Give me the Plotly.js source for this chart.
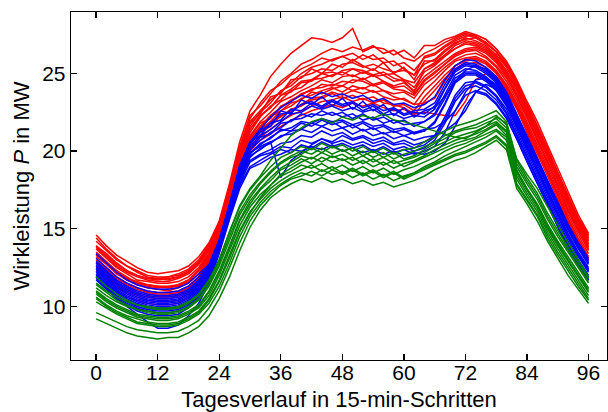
<!DOCTYPE html>
<html>
<head>
<meta charset="utf-8">
<script src="https://cdn.plot.ly/plotly-3.0.1.min.js"></script>
<style>html,body{margin:0;padding:0;background:#fff;}#chart{width:608px;height:412px;}</style>
</head>
<body>
<div id="chart"></div>
<script>
// Time steps (15-min intervals), sampled every second step
const steps = [0,2,4,6,8,10,12,14,16,18,20,22,24,26,28,30,32,34,36,38,40,42,44,46,48,50,52,54,56,58,60,62,64,66,68,70,72,74,76,78,80,82,84,86,88,90,92,94,96];
const xTicks = [0,12,24,36,48,60,72,84,96];
const yTicks = [10,15,20,25];

// Red group
const red01 = [14.6,13.9,13.3,12.9,12.5,12.2,12.1,12.2,12.3,12.6,13.2,14.1,15.5,17.9,20.6,22.6,23.6,24.8,25.6,26.3,26.8,27.3,27.2,27.0,27.3,27.9,26.4,26.7,26.6,26.2,26.5,26.0,26.8,26.8,27.2,27.4,27.7,27.5,27.2,26.6,25.8,24.6,23.2,21.9,20.4,18.9,17.3,15.9,14.7];
const red02 = [14.4,13.7,13.1,12.6,12.3,12.0,11.9,11.9,12.1,12.4,13.0,14.0,15.4,17.7,20.3,22.3,22.9,23.7,24.5,25.0,25.6,25.9,26.3,26.6,26.4,26.7,26.5,26.8,26.3,26.5,26.0,25.8,26.3,26.6,27.0,27.3,27.6,27.4,27.0,26.4,25.5,24.3,23.0,21.6,20.1,18.6,17.0,15.6,14.5];
const red03 = [14.2,13.6,13.0,12.6,12.2,11.9,11.8,11.9,12.0,12.3,12.9,13.9,15.4,17.6,20.0,21.9,22.6,23.3,23.8,24.4,25.0,25.4,25.6,25.9,26.1,25.8,26.2,25.9,26.0,25.5,25.7,25.2,26.0,26.2,26.7,27.1,27.4,27.5,27.2,26.6,25.7,24.5,23.1,21.7,20.2,18.6,17.1,15.7,14.6];
const red04 = [13.9,13.4,12.8,12.3,12.0,11.8,11.7,11.8,11.9,12.2,12.8,13.8,15.3,17.4,19.8,21.6,22.5,23.1,23.9,24.2,24.8,25.0,25.3,25.2,25.6,25.7,25.4,25.6,25.3,25.1,25.2,24.9,25.6,25.9,26.5,27.0,27.2,27.3,26.9,26.4,25.5,24.3,22.9,21.5,20.0,18.5,16.9,15.5,14.3];
const red05 = [13.8,13.2,12.6,12.2,11.9,11.7,11.6,11.6,11.8,12.1,12.7,13.7,15.2,17.3,19.6,21.4,22.3,22.8,23.6,24.0,24.5,24.6,25.0,25.1,24.9,25.3,25.2,24.9,25.1,24.7,24.5,23.8,25.3,25.7,26.2,26.8,27.1,27.0,26.7,26.1,25.2,24.1,22.7,21.2,19.8,18.3,16.7,15.3,14.1];
const red06 = [13.5,12.9,12.3,11.9,11.5,11.4,11.3,11.2,11.4,11.7,12.4,13.4,15.0,17.3,19.5,21.2,22.2,22.9,23.3,23.9,24.1,24.6,24.7,24.9,25.1,24.8,25.1,24.8,24.9,24.5,24.6,24.1,25.1,25.5,26.1,26.6,26.9,26.8,26.5,25.9,25.0,23.9,22.5,21.0,19.6,18.1,16.5,15.1,13.9];
const red07 = [13.2,12.7,12.1,11.7,11.4,11.2,11.1,11.0,11.2,11.5,12.1,13.3,14.9,17.2,19.4,21.0,21.9,22.5,23.2,23.5,23.9,24.2,24.6,24.4,24.8,24.9,24.6,24.9,24.5,24.2,24.4,23.9,24.8,25.3,25.8,26.3,26.6,26.7,26.4,25.8,24.9,23.7,22.3,20.9,19.4,17.9,16.3,15.0,13.8];
const red08 = [13.0,12.5,11.9,11.5,11.2,11.0,10.9,10.9,11.0,11.3,11.9,13.2,14.9,17.1,19.3,20.8,21.6,22.3,22.8,23.3,23.6,24.0,24.1,24.3,24.2,24.6,24.5,24.2,24.4,24.0,23.9,23.6,24.5,25.0,25.6,26.1,26.4,26.5,26.1,25.5,24.7,23.5,22.1,20.7,19.2,17.7,16.1,14.8,13.6];
const red09 = [12.8,12.3,11.7,11.3,11.0,10.8,10.7,10.7,10.8,11.1,11.8,13.1,14.8,17.0,19.1,20.6,21.4,21.9,22.6,22.9,23.4,23.6,23.9,24.1,23.8,24.2,24.0,24.3,23.9,23.7,23.8,23.4,24.3,24.8,25.4,25.9,26.2,26.3,26.0,25.4,24.5,23.3,21.9,20.5,19.0,17.5,15.9,14.6,13.4];
const red10 = [12.6,12.0,11.5,11.1,10.8,10.6,10.5,10.5,10.6,10.9,11.6,13.0,14.7,16.9,19.0,20.4,21.2,21.6,22.3,22.6,23.0,23.4,23.5,23.8,23.6,23.9,23.7,23.9,23.5,23.3,23.4,23.0,23.9,24.5,25.2,25.8,26.0,26.1,25.8,25.2,24.3,23.1,21.7,20.3,18.8,17.3,15.7,14.4,13.2];
const red11 = [12.3,11.8,11.2,10.9,10.6,10.4,10.3,10.3,10.4,10.8,11.4,12.8,14.6,16.8,18.8,20.2,20.9,21.4,21.9,22.3,22.6,22.9,23.2,23.3,23.5,23.2,23.4,23.1,23.3,22.9,23.0,22.6,23.5,24.2,24.9,25.5,25.8,25.9,25.6,25.0,24.1,22.9,21.5,20.1,18.6,17.1,15.5,14.2,13.0];
const red12 = [12.0,11.5,11.0,10.6,10.4,10.2,10.1,10.1,10.2,10.6,11.2,12.6,14.5,16.7,18.6,20.0,20.7,21.1,21.6,22.0,22.3,22.6,22.8,23.0,22.8,23.1,22.9,23.1,22.8,22.6,22.7,22.3,23.2,23.9,24.7,25.3,25.6,25.7,25.4,24.8,23.9,22.7,21.3,19.9,18.4,16.9,15.3,14.0,12.8];
const red13 = [13.3,12.8,12.2,11.8,11.5,11.3,11.2,11.2,11.3,11.6,12.3,13.4,15.0,16.9,18.9,20.5,21.3,21.9,22.2,22.7,22.9,23.3,23.4,23.7,23.4,23.6,23.3,23.5,23.1,23.0,22.8,22.4,22.5,22.4,22.3,22.3,23.2,24.6,25.0,24.8,24.0,22.8,21.2,19.6,18.0,16.6,15.3,14.1,13.0];
const red14 = [12.9,12.4,11.8,11.4,11.1,10.9,10.8,10.8,10.9,11.2,11.9,13.1,14.8,17.0,19.1,20.7,21.5,22.2,22.6,23.1,23.3,23.8,23.7,24.0,24.2,23.9,24.1,23.8,23.9,23.5,23.3,23.0,23.1,23.4,24.5,25.5,25.9,26.0,25.7,25.1,24.2,23.0,21.6,20.1,18.7,17.2,15.6,14.3,13.1];
const red15 = [13.7,13.1,12.5,12.1,11.7,11.6,11.5,11.5,11.6,11.9,12.5,13.6,15.1,17.5,19.9,21.8,22.4,23.5,23.7,24.6,24.7,25.3,25.0,25.6,25.4,25.9,25.5,25.2,25.7,25.0,25.4,24.6,25.8,25.8,26.4,26.9,27.3,27.1,26.8,26.2,25.4,24.2,22.8,21.4,19.9,18.4,16.8,15.4,14.2];
const red16 = [13.4,12.8,12.3,11.8,11.6,11.4,11.3,11.3,11.4,11.7,12.3,13.3,15.0,17.4,19.6,21.4,22.3,22.8,23.6,23.8,24.4,24.5,25.0,24.8,25.2,25.3,25.0,25.3,24.9,25.0,24.6,24.4,25.3,25.6,26.2,26.6,27.0,26.9,26.6,26.0,25.1,24.0,22.6,21.1,19.7,18.2,16.6,15.2,14.0];
const red17 = [12.5,12.0,11.4,11.0,10.8,10.6,10.6,10.6,10.7,11.0,11.7,12.9,14.7,17.1,19.2,20.9,21.8,22.1,22.9,23.2,23.7,23.9,24.3,24.2,24.5,24.4,24.7,24.3,24.5,24.1,24.2,23.7,24.6,25.1,25.6,26.2,26.5,26.6,26.3,25.7,24.8,23.6,22.2,20.8,19.3,17.8,16.2,14.9,13.7];
const red18 = [13.9,13.3,12.7,12.3,12.0,11.8,11.8,11.7,11.9,12.2,12.8,13.6,15.2,17.7,20.2,22.1,23.1,23.9,24.3,24.9,25.3,25.6,26.0,25.8,26.1,26.3,25.9,26.2,25.7,25.8,25.3,24.9,26.1,26.3,26.8,27.2,27.5,27.3,27.0,26.4,25.6,24.4,23.0,21.6,20.1,18.6,17.0,15.6,14.4];

// Blue group
const blue01 = [13.4,12.8,12.2,11.7,11.4,11.2,11.1,11.1,11.2,11.5,12.1,12.7,14.3,16.6,19.1,20.6,21.4,22.2,22.8,23.2,23.6,23.4,23.8,23.5,23.7,23.4,23.6,23.2,23.4,23.0,23.1,22.8,23.0,23.5,24.6,25.5,25.9,25.8,25.4,24.8,23.8,22.4,21.0,19.6,18.2,16.8,15.3,14.1,13.1];
const blue02 = [13.1,12.5,11.9,11.5,11.2,11.0,10.9,10.9,11.0,11.3,11.9,12.6,14.2,16.5,19.0,20.5,21.2,21.8,22.4,22.5,23.0,23.2,22.9,23.3,23.0,23.2,22.8,23.0,22.6,22.8,22.4,22.6,22.7,23.1,24.3,25.3,25.7,25.6,25.2,24.6,23.6,22.2,20.8,19.4,17.9,16.5,15.1,13.9,12.9];
const blue03 = [12.8,12.2,11.6,11.2,10.9,10.7,10.6,10.6,10.7,11.0,11.6,12.4,14.1,16.4,18.8,20.3,21.0,21.4,21.9,22.4,22.5,22.9,22.7,22.9,22.6,22.8,22.5,22.7,22.3,22.4,22.1,22.3,22.2,22.7,24.0,25.1,25.5,25.4,25.0,24.4,23.4,22.0,20.6,19.2,17.7,16.3,14.9,13.7,12.7];
const blue04 = [12.5,11.9,11.3,10.9,10.6,10.4,10.3,10.3,10.4,10.7,11.3,12.2,14.0,16.3,18.6,20.1,20.7,21.2,21.5,22.0,22.1,22.4,22.3,22.5,22.2,22.4,22.0,22.2,21.8,22.0,21.7,21.8,21.9,22.4,23.6,24.9,25.3,25.2,24.8,24.2,23.2,21.8,20.4,19.0,17.5,16.1,14.7,13.5,12.5];
const blue05 = [12.2,11.6,11.0,10.6,10.3,10.1,10.0,10.0,10.1,10.4,11.0,12.0,13.9,16.1,18.4,19.9,20.4,20.9,21.3,21.5,21.9,21.8,22.1,21.9,22.0,21.7,21.9,21.6,21.7,21.4,21.5,21.2,21.4,21.5,21.9,22.6,23.8,24.6,24.7,24.3,23.3,21.9,20.4,18.9,17.4,16.0,14.6,13.4,12.4];
const blue06 = [12.0,11.4,10.8,10.4,10.1,9.9,9.8,9.8,9.9,10.2,10.8,11.9,13.8,16.0,18.3,19.7,20.1,20.6,20.9,21.3,21.4,21.8,21.6,21.9,21.5,21.7,21.3,21.5,21.1,21.3,21.0,21.2,21.3,21.8,23.0,24.4,24.9,24.9,24.5,23.9,22.9,21.5,20.1,18.7,17.2,15.8,14.4,13.2,12.2];
const blue07 = [11.8,11.2,10.6,10.2,9.9,9.7,9.6,9.6,9.7,10.0,10.6,11.8,13.7,15.9,18.1,19.4,19.8,20.1,20.5,20.6,21.0,20.9,21.3,21.0,21.2,20.8,21.0,20.7,20.9,20.5,20.7,20.4,20.6,21.0,22.2,23.6,24.4,24.5,24.2,23.6,22.7,21.3,19.9,18.5,17.0,15.6,14.2,13.0,12.0];
const blue08 = [11.9,11.2,10.5,10.0,9.5,9.0,8.6,8.6,8.8,9.4,10.2,11.5,13.4,15.6,17.6,18.9,19.2,19.6,19.8,20.1,20.0,20.3,20.1,20.4,20.0,20.2,19.9,20.1,19.8,20.0,19.7,19.9,19.8,20.0,20.5,21.6,22.9,23.8,23.6,23.0,22.1,20.8,19.3,17.9,16.5,15.2,13.8,12.7,11.7];
const blue09 = [12.4,11.8,11.2,10.8,10.5,10.3,10.2,10.2,10.3,10.6,11.2,12.1,13.9,16.1,18.4,19.9,20.3,20.6,18.3,19.4,19.9,20.4,20.8,20.6,21.0,20.7,20.9,20.5,20.7,20.4,20.5,20.2,20.4,20.9,22.0,23.4,24.2,24.4,24.1,23.5,22.5,21.1,19.7,18.3,16.8,15.4,14.0,12.9,11.9];
const blue10 = [12.9,12.3,11.7,11.3,11.0,10.8,10.7,10.7,10.8,11.1,11.7,12.5,14.2,16.5,19.0,20.4,21.4,21.6,22.6,22.4,23.3,23.0,23.5,22.9,23.4,22.7,23.2,22.6,23.0,22.3,22.8,22.2,22.6,22.8,23.5,24.5,25.2,25.5,25.3,24.7,23.7,22.3,20.9,19.5,18.0,16.6,15.2,14.0,13.0];
const blue11 = [12.3,11.7,11.1,10.7,10.4,10.2,10.1,10.1,10.2,10.5,11.1,12.0,13.9,16.0,18.2,19.6,20.2,20.5,21.0,21.1,21.4,21.2,21.6,21.3,21.5,21.1,21.4,21.0,21.2,20.8,21.0,20.7,20.9,21.0,21.3,21.8,22.6,23.8,24.3,24.0,23.1,21.7,20.2,18.8,17.3,15.9,14.5,13.3,12.3];
const blue12 = [12.7,12.1,11.5,11.1,10.8,10.6,10.5,10.5,10.6,10.9,11.5,12.3,14.1,16.3,18.7,20.1,20.9,21.1,21.8,21.9,22.4,22.2,22.6,22.3,22.5,22.1,22.4,22.0,22.2,21.8,22.0,21.6,21.9,22.3,23.4,24.7,25.1,25.1,24.7,24.1,23.1,21.7,20.3,18.9,17.4,16.0,14.6,13.4,12.4];
const blue13 = [12.1,11.5,10.9,10.5,10.2,10.0,9.9,9.9,10.0,10.3,10.9,11.9,13.8,15.8,17.9,19.3,19.7,19.9,20.3,20.2,20.7,20.5,20.8,20.5,20.7,20.4,20.6,20.3,20.5,20.1,20.3,20.0,20.2,20.7,21.8,23.2,24.0,24.2,23.9,23.3,22.4,21.0,19.6,18.2,16.7,15.3,13.9,12.8,11.8];
const blue14 = [12.6,12.0,11.4,11.0,10.7,10.5,10.4,10.4,10.5,10.8,11.4,12.3,14.0,16.4,18.9,20.6,21.0,21.8,22.0,22.7,22.6,23.1,22.8,23.2,22.9,23.1,22.6,22.9,22.4,22.7,22.3,22.5,22.4,22.9,24.1,25.2,25.6,25.5,25.1,24.5,23.5,22.1,20.7,19.3,17.8,16.4,15.0,13.8,12.8];
const blue15 = [11.9,11.3,10.7,10.3,10.0,9.8,9.7,9.7,9.8,10.1,10.7,11.9,13.8,16.0,18.3,19.8,20.5,20.8,21.4,21.3,21.8,21.6,22.0,21.7,21.9,21.5,21.8,21.4,21.6,21.2,21.4,21.1,21.3,21.9,23.1,24.5,25.0,25.0,24.6,24.0,23.0,21.6,20.2,18.8,17.3,15.9,14.5,13.3,12.3];
const blue16 = [11.7,11.1,10.5,10.1,9.7,9.5,9.4,9.4,9.5,9.9,10.5,11.6,13.6,15.7,17.8,19.0,19.4,19.8,20.1,19.9,20.4,20.2,20.6,20.3,20.5,20.2,20.4,20.0,20.3,19.9,20.1,19.8,20.0,20.3,21.2,22.6,23.6,23.9,23.7,23.1,22.2,20.8,19.4,18.0,16.5,15.1,13.7,12.6,11.7];

// Green group
const green01 = [11.5,11.0,10.6,10.3,10.1,10.0,9.9,9.9,10.0,10.3,10.8,11.7,13.0,14.8,16.5,17.6,18.4,19.4,20.2,21.0,21.5,21.9,22.1,21.8,22.2,22.0,22.3,22.1,22.4,22.0,21.9,21.7,21.5,21.3,21.1,20.9,20.8,21.2,21.6,22.2,21.8,19.5,18.5,17.6,16.4,15.3,14.1,13.0,11.9];
const green02 = [11.9,11.3,10.8,10.4,10.1,9.9,9.8,9.8,9.9,10.2,10.7,11.6,13.0,14.8,16.4,17.5,18.3,19.0,19.6,19.9,20.3,20.1,20.5,20.2,20.4,20.0,20.3,19.9,20.2,19.8,20.1,20.2,20.6,20.9,21.3,21.6,21.8,22.0,22.3,22.6,21.9,19.4,18.3,17.3,16.0,14.9,13.8,12.8,11.8];
const green03 = [11.2,10.7,10.3,10.0,9.8,9.6,9.5,9.5,9.6,9.9,10.4,11.3,12.6,14.3,15.9,17.0,17.9,18.6,19.2,19.6,19.8,20.2,19.9,20.3,20.0,20.2,19.7,20.0,19.6,19.9,19.5,19.7,20.1,20.5,20.8,21.2,21.4,21.5,21.8,22.1,21.5,19.0,17.9,16.9,15.6,14.5,13.5,12.5,11.5];
const green04 = [11.0,10.5,10.1,9.8,9.5,9.4,9.3,9.3,9.4,9.7,10.1,11.0,12.3,13.9,15.6,16.8,17.6,18.3,18.9,19.3,19.7,19.5,19.9,19.6,19.8,19.4,19.7,19.3,19.6,19.2,19.4,19.6,19.9,20.3,20.6,20.9,21.1,21.3,21.6,21.9,21.3,18.8,17.6,16.6,15.3,14.2,13.2,12.2,11.2];
const green05 = [10.8,10.3,9.9,9.6,9.3,9.2,9.1,9.1,9.2,9.5,9.9,10.7,12.0,13.6,15.2,16.4,17.2,17.8,18.4,18.7,19.1,18.9,19.2,18.8,19.1,18.7,19.0,18.6,18.9,18.5,18.8,19.0,19.3,19.6,20.0,20.3,20.5,20.8,21.1,21.4,20.9,18.4,17.3,16.3,15.0,13.9,12.9,11.9,10.9];
const green06 = [10.6,10.1,9.7,9.4,9.2,9.0,8.9,8.9,9.0,9.3,9.7,10.5,11.7,13.3,14.9,16.1,16.9,17.6,18.1,18.5,18.8,19.1,18.7,19.0,18.6,18.9,18.5,18.8,18.4,18.7,18.3,18.6,19.0,19.3,19.7,20.0,20.3,20.6,20.9,21.3,20.7,18.2,17.1,16.1,14.8,13.7,12.7,11.7,10.7];
const green07 = [10.3,9.9,9.5,9.2,8.9,8.8,8.7,8.7,8.8,9.1,9.5,10.2,11.3,12.8,14.5,15.8,16.7,17.4,17.9,18.3,18.6,18.4,18.8,18.5,18.7,18.3,18.6,18.2,18.5,18.1,18.4,18.6,18.9,19.2,19.5,19.8,20.0,20.3,20.6,21.0,20.4,17.9,16.9,15.9,14.6,13.5,12.5,11.5,10.5];
const green08 = [9.2,8.9,8.6,8.3,8.1,8.0,7.9,8.0,8.0,8.3,8.7,9.4,10.5,11.9,13.6,15.1,16.2,17.0,17.5,17.9,18.2,18.0,18.3,18.0,18.2,17.9,18.1,17.8,18.0,17.7,17.9,18.1,18.4,18.8,19.1,19.4,19.6,19.9,20.3,20.7,20.1,17.6,16.6,15.5,14.2,13.1,12.0,11.1,10.2];
const green09 = [9.6,9.3,9.0,8.7,8.5,8.4,8.3,8.3,8.4,8.7,9.1,9.9,11.0,12.5,14.1,15.5,16.5,17.2,17.8,18.2,18.4,18.7,18.4,18.8,18.5,18.8,18.4,18.7,18.3,18.6,18.2,18.5,18.8,19.1,19.4,19.7,19.9,20.2,20.5,20.9,20.3,17.8,16.8,15.8,14.4,13.3,12.3,11.3,10.4];
const green10 = [10.5,10.0,9.6,9.3,9.0,8.9,8.8,8.8,8.9,9.2,9.6,10.4,11.6,13.1,14.8,16.0,17.0,17.8,18.5,18.9,19.3,19.6,19.3,19.7,19.4,19.6,19.2,19.5,19.1,19.4,19.0,19.3,19.6,19.9,20.2,20.5,20.7,20.9,21.3,21.7,21.0,18.6,17.5,16.5,15.2,14.1,13.0,12.0,11.0];
const green11 = [10.9,10.4,10.0,9.7,9.4,9.3,9.2,9.2,9.3,9.6,10.0,10.9,12.2,13.8,15.5,16.6,17.5,18.1,18.8,19.1,19.5,19.2,19.6,19.3,19.5,19.1,19.4,19.0,19.3,18.9,19.2,19.4,19.7,20.1,20.4,20.7,20.9,21.1,21.4,21.8,21.2,18.7,17.5,16.5,15.1,14.0,13.0,12.0,11.1];
const green12 = [11.4,10.9,10.4,10.1,9.8,9.7,9.6,9.6,9.7,10.0,10.5,11.4,12.8,14.5,16.1,17.2,18.0,18.7,19.3,19.7,20.0,19.8,20.2,19.8,20.1,19.7,20.0,19.6,19.9,19.5,19.8,20.0,20.3,20.6,21.0,21.3,21.5,21.7,22.0,22.3,21.7,19.2,18.1,17.1,15.8,14.7,13.6,12.6,11.6];

const redSeries = [red01,red02,red03,red04,red05,red06,red07,red08,red09,red10,red11,red12,red13,red14,red15,red16,red17,red18];
const blueSeries = [blue01,blue02,blue03,blue04,blue05,blue06,blue07,blue08,blue09,blue10,blue11,blue12,blue13,blue14,blue15,blue16];
const greenSeries = [green01,green02,green03,green04,green05,green06,green07,green08,green09,green10,green11,green12];

function mk(arr, color){
  return {x: steps, y: arr, type: 'scatter', mode: 'lines',
          line: {color: color, width: 1.5}, hoverinfo: 'skip', showlegend: false};
}
const traces = [];
redSeries.forEach(s => traces.push(mk(s, '#ff0000')));
blueSeries.forEach(s => traces.push(mk(s, '#0000ff')));
greenSeries.forEach(s => traces.push(mk(s, '#008000')));

const fontFam = 'Liberation Sans, Arial, Helvetica, sans-serif';
const layout = {
  width: 608, height: 412,
  margin: {l: 71, r: 1, t: 12, b: 52, pad: 0},
  paper_bgcolor: '#ffffff', plot_bgcolor: '#ffffff',
  showlegend: false,
  font: {family: fontFam, color: '#000000', size: 21},
  xaxis: {
    range: [-4.9, 99.6], tickmode: 'array', tickvals: xTicks,
    ticks: 'inside', ticklen: 6, tickwidth: 1.3, tickcolor: '#000',
    showline: true, linecolor: '#000', linewidth: 1.3, mirror: 'ticks',
    showgrid: false, zeroline: false, automargin: false,
    ticklabelstandoff: -7,
    tickfont: {family: fontFam, size: 21, color: '#000'},
    title: {text: 'Tagesverlauf in 15-min-Schritten', font: {family: fontFam, size: 22, color: '#000'}, standoff: 14}
  },
  yaxis: {
    range: [6.55, 28.96], tickmode: 'array', tickvals: yTicks,
    ticks: 'inside', ticklen: 6, tickwidth: 1.3, tickcolor: '#000',
    showline: true, linecolor: '#000', linewidth: 1.3, mirror: 'ticks',
    showgrid: false, zeroline: false, automargin: false,
    tickfont: {family: fontFam, size: 21, color: '#000'},
    title: {text: 'Wirkleistung <i>P</i> in MW', font: {family: fontFam, size: 22, color: '#000'}, standoff: 6}
  }
};
Plotly.newPlot('chart', traces, layout, {staticPlot: true, displayModeBar: false});
</script>
</body>
</html>
